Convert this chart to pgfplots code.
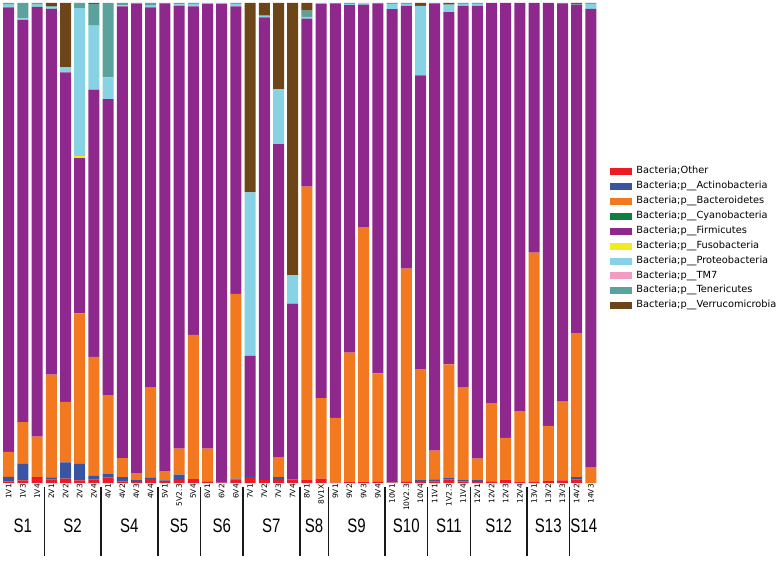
\documentclass[border=0pt]{standalone}
\usepackage{pgfplots}
\pgfplotsset{compat=1.18}
\usepackage{pgfplotstable}
\usepackage{fontspec}
\setmainfont{DejaVu Sans}
\newfontfamily\grpfont{Liberation Sans}
\usepackage{graphicx}

\definecolor{cOther}{RGB}{237,28,36}
\definecolor{cAct}{RGB}{58,84,164}
\definecolor{cBac}{RGB}{242,121,32}
\definecolor{cCya}{RGB}{13,128,64}
\definecolor{cFir}{RGB}{142,40,140}
\definecolor{cFus}{RGB}{242,235,33}
\definecolor{cPro}{RGB}{135,210,228}
\definecolor{cTM}{RGB}{242,155,195}
\definecolor{cTen}{RGB}{90,162,155}
\definecolor{cVer}{RGB}{108,70,24}

\pgfplotstableread{
x  Oth   Act   Bac    Cya  Fir    Fus  Pro    TM7  Ten   Ver
0  0.3   1.0   5.2    0    92.6   0    0.55   0    0.35  0
1  0.55  3.45  8.7    0    83.8   0    0.3    0    3.2   0
2  1.0   0.2   8.45   0    89.55  0    0.45   0    0.35  0
3  0.75  0.4   21.45  0    76.2   0    0.3    0    0.2   0.7
4  0.9   3.4   12.6   0    68.65  0    1.05   0    0     13.4
5  0.55  3.45  31.35  0    32.35  0.4  30.85  0    1.05  0
6  0.7   0.8   24.8   0    55.65  0    13.35  0    4.5   0.2
7  1.1   0.85  16.25  0    61.8   0    4.5    0    15.5  0
8  0.3   0.95  3.95   0    94.1   0    0.2    0    0.5   0
9  0.2   0.4   1.45   0    97.7   0    0      0    0.25  0
10 0.8   0.25  18.8   0    79.25  0    0.35   0    0.55  0
11 0.2   0.35  1.9    0    97.35  0    0      0    0.2   0
12 0.6   1.15  5.4    0    92.3   0    0.25   0    0.3   0
13 0.8   0     30.05  0    68.45  0    0.5    0    0.2   0
14 0.35  0     6.8    0    92.65  0    0.2    0    0     0
15 0.1   0     0      0    99.7   0    0.2    0    0     0
16 0.7   0.2   38.5   0    59.9   0    0.5    0    0.2   0
17 1.25  0.2   0      0    25.05  0    34.05  0    0     39.45
18 0.6   0     0      0    96.4   0    0.35   0    0     2.65
19 0.8   0.45  4.05   0    65.3   0    11.4   0    0     18.0
20 0.75  0     0      0    36.6   0    5.95   0    0     56.7
21 0.6   0     61.15  0    35.0   0    0.35   0    1.3   1.6
22 0.9   0     16.8   0    82.1   0    0.2    0    0     0
23 0.1   0     13.45  0    86.35  0    0.1    0    0     0
24 0.2   0     26.95  0    72.4   0    0.25   0    0.2   0
25 0.3   0     52.9   0    46.45  0    0.25   0    0.1   0
26 0.35  0     22.5   0    76.95  0    0      0    0.2   0
27 0     0     0.1    0    98.6   0    1.1    0    0.2   0
28 0.35  0     44.3   0    54.75  0    0.4    0    0.2   0
29 0.4   0.2   23.1   0    61.2   0    14.5   0    0     0.6
30 0.3   0.45  6.0    0    93.05  0    0      0    0.2   0
31 0.7   0.3   23.7   0    73.4   0    1.55   0    0     0.35
32 0.3   0.4   19.15  0    79.55  0    0.4    0    0.2   0
33 0.2   0.4   4.5    0    94.3   0    0.4    0    0.2   0
34 0.35  0     16.3   0    83.35  0    0      0    0     0
35 0.7   0     8.7    0    90.6   0    0      0    0     0
36 0.3   0     14.65  0    85.05  0    0      0    0     0
37 0.2   0     47.8   0    52.0   0    0      0    0     0
38 0.2   0.2   11.5   0    88.1   0    0      0    0     0
39 0.55  0     16.4   0    82.85  0    0      0    0.2   0
40 0.7   0.5   30.0   0    68.45  0    0      0    0.15  0.2
41 0     0     3.2    0    95.55  0    1.05   0    0.2   0
}\data

\newcommand{\grp}[2]{\node[inner sep=0pt] at (axis cs:#1,-8.96) {\scalebox{1}[1.3]{\grpfont\fontsize{15}{15}\selectfont #2}};}

\begin{document}
\begin{tikzpicture}
\useasboundingbox (-1.6pt,-77pt) rectangle (781.4pt,483pt);
\begin{axis}[
  scale only axis,
  width=596.4pt, height=480pt,
  xmin=-0.5, xmax=41.5, ymin=0, ymax=100,
  ybar stacked, bar width=11pt,
  clip=false,
  axis line style={draw=none},
  major tick length=0pt,
  ytick=\empty,
  xtick={0,...,41},
  xticklabels={1V1,1V3,1V4,2V1,2V2,2V3,2V4,4V1,4V2,4V3,4V4,5V1,5V2.3,5V4,6V1,6V2,6V4,7V1,7V2,7V3,7V4,8V1,8V1X,9V1,9V2,9V3,9V4,10V1,10V2.3,10V4,11V1,1V2.3,11V4,12V1,12V2,12V3,12V4,13V1,13V2,13V3,14V2,14V3},
  xticklabel style={rotate=90, anchor=east, font=\fontsize{7.5}{7.5}\selectfont, inner sep=1pt},
  legend style={at={(1.0201,0.658)}, anchor=north west, draw=none, fill=none,
    inner sep=0pt, outer sep=0pt, row sep=5.9pt,
    font=\fontsize{9.8}{9.8}\selectfont,
    nodes={inner sep=0pt, text height=6.6pt, text depth=2.4pt},
    /tikz/every even column/.append style={column sep=0pt}},
  legend cell align=left,
  legend image code/.code={\fill[#1] (0pt,-3.5pt) rectangle (22pt,3.5pt); \path (26.5pt,0pt);},
]
\addplot[fill=cOther, draw=none] table[x=x,y=Oth]{\data};
\addplot[fill=cAct, draw=none] table[x=x,y=Act]{\data};
\addplot[fill=cBac, draw=none] table[x=x,y=Bac]{\data};
\addplot[fill=cCya, draw=none] table[x=x,y=Cya]{\data};
\addplot[fill=cFir, draw=none] table[x=x,y=Fir]{\data};
\addplot[fill=cFus, draw=none] table[x=x,y=Fus]{\data};
\addplot[fill=cPro, draw=none] table[x=x,y=Pro]{\data};
\addplot[fill=cTM, draw=none] table[x=x,y=TM7]{\data};
\addplot[fill=cTen, draw=none] table[x=x,y=Ten]{\data};
\addplot[fill=cVer, draw=none] table[x=x,y=Ver]{\data};
\legend{Bacteria;Other,Bacteria;p\_\_Actinobacteria,Bacteria;p\_\_Bacteroidetes,Bacteria;p\_\_Cyanobacteria,Bacteria;p\_\_Firmicutes,Bacteria;p\_\_Fusobacteria,Bacteria;p\_\_Proteobacteria,Bacteria;p\_\_TM7,Bacteria;p\_\_Tenericutes,Bacteria;p\_\_Verrucomicrobia}

\pgfplotsinvokeforeach{2.5,6.5,10.5,13.5,16.5,20.5,22.5,26.5,29.5,32.5,36.5,39.5}{
  \draw[line width=1.4pt, black!90] (axis cs:#1,-0.83) -- (axis cs:#1,-15.2);
}
\grp{1}{S1}
\grp{4.5}{S2}
\grp{8.5}{S4}
\grp{12}{S5}
\grp{15}{S6}
\grp{18.5}{S7}
\grp{21.5}{S8}
\grp{24.5}{S9}
\grp{28}{S10}
\grp{31}{S11}
\grp{34.5}{S12}
\grp{38}{S13}
\grp{40.5}{S14}
\end{axis}
\end{tikzpicture}
\end{document}
